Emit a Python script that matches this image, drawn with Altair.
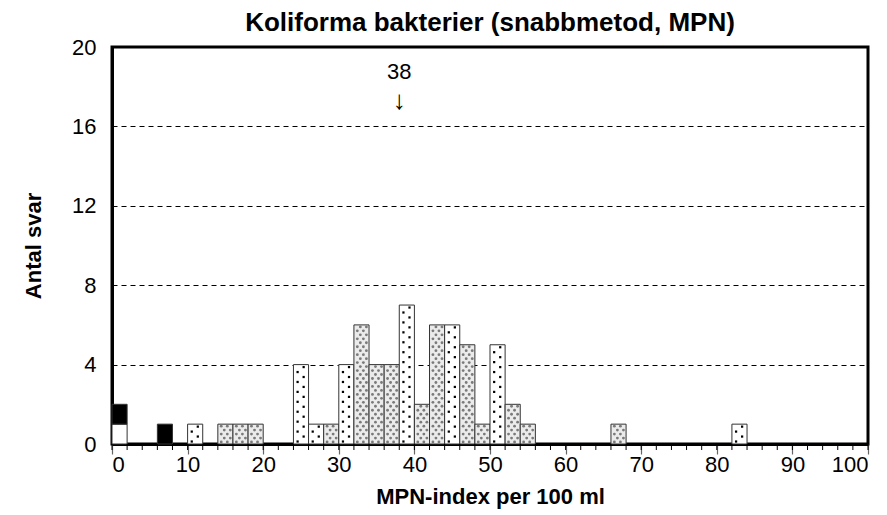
import altair as alt
import pandas as pd

# ---- data ----
bin_start = [0, 0, 6, 10, 14, 16, 18, 24, 26, 28, 30, 32, 34, 36, 38, 40, 42, 44, 46, 48, 50, 52, 54, 66, 82]
counts =    [1, 1, 1, 1, 1, 1, 1, 4, 1, 1, 4, 6, 4, 4, 7, 2, 6, 6, 5, 1, 5, 2, 1, 1, 1]
kinds = ["white", "black", "black", "sparse", "dense", "dense", "dense", "sparse", "sparse", "dense",
         "sparse", "dense", "dense", "dense", "sparse", "dense", "dense", "sparse", "dense", "dense",
         "sparse", "dense", "dense", "dense", "sparse"]
bin_width = 2
x_ticks = [0, 10, 20, 30, 40, 50, 60, 70, 80, 90, 100]
minor_ticks = list(range(0, 101, 2))
y_ticks = [0, 4, 8, 12, 16, 20]
annot_x = [38]
annot_label = ["38"]
annot_label_y = [18.75]
annot_arrow_y = [17.3]

title_text = "Koliforma bakterier (snabbmetod, MPN)"
x_title = "MPN-index per 100 ml"
y_title = "Antal svar"

# stacked segments (bottom to top within each bin)
rows = []
base = {}
for s, c, k in zip(bin_start, counts, kinds):
    y0 = base.get(s, 0)
    rows.append({"start": s, "end": s + bin_width, "y0": y0, "y1": y0 + c, "kind": k})
    base[s] = y0 + c
bars_df = pd.DataFrame(rows)

FONT = "Liberation Sans"
W, H = 756, 397

xscale = alt.Scale(domain=[0, 100], nice=False, zero=False)
yscale = alt.Scale(domain=[0, 20], nice=False)

x_enc = alt.X("start:Q", scale=xscale,
              axis=alt.Axis(values=x_ticks, title=x_title, grid=False, tickSize=10,
                            tickColor="#666", tickWidth=1.2, labelPadding=0,
                            labelFontSize=22, labelFont=FONT, labelColor="#000",
                            titleFont=FONT, titleFontSize=22, titleFontWeight="bold",
                            titleColor="#000", titlePadding=11,
                            domainColor="#000", domainWidth=3))
y_enc = alt.Y("y0:Q", scale=yscale,
              axis=alt.Axis(values=y_ticks, title=y_title, grid=True, gridDash=[5, 4],
                            gridColor="#000", gridWidth=1, ticks=False, tickSize=0,
                            labelPadding=16, labelFontSize=22, labelFont=FONT,
                            labelColor="#000", titleFont=FONT, titleFontSize=22,
                            titleFontWeight="bold", titleColor="#000", titlePadding=26,
                            domainColor="#000", domainWidth=3))

bar_base = alt.Chart(bars_df)

bars = bar_base.mark_rect(stroke="#333", strokeWidth=1).encode(
    x=x_enc,
    x2="end:Q",
    y=y_enc,
    y2="y1:Q",
    fill=alt.Fill("kind:N", scale=alt.Scale(domain=["white", "black", "sparse", "dense"],
                                            range=["#ffffff", "#000000", "#ffffff", "#ebebeb"]),
                  legend=None),
)

# dot textures
sparse_dots = bar_base.transform_filter("datum.kind === 'sparse'").transform_calculate(
    r="sequence(0, (datum.y1 - datum.y0) * 4)"
).transform_flatten(["r"]).transform_calculate(
    dx="datum.start + (datum.r % 2 === 0 ? 0.55 : 1.35)",
    dy="datum.y0 + (datum.r + 0.5) / 4",
).mark_square(size=5, color="#000", opacity=1).encode(
    x=alt.X("dx:Q", scale=xscale), y=alt.Y("dy:Q", scale=yscale)
)

dense_dots = bar_base.transform_filter("datum.kind === 'dense'").transform_calculate(
    r="sequence(0, (datum.y1 - datum.y0) * 5)", c="sequence(0, 2)"
).transform_flatten(["r"]).transform_flatten(["c"]).transform_calculate(
    dx="datum.start + 0.45 + datum.c * 0.8 + (datum.r % 2) * 0.4",
    dy="datum.y0 + (datum.r + 0.5) / 5",
).mark_circle(size=8, color="#7a7a7a", opacity=1).encode(
    x=alt.X("dx:Q", scale=xscale), y=alt.Y("dy:Q", scale=yscale)
)

minor = alt.Chart(pd.DataFrame({"m": minor_ticks})).mark_rule(color="#000", strokeWidth=1).encode(
    x=alt.X("m:Q", scale=xscale), y=alt.value(H), y2=alt.value(H + 6)
)

annot_df = pd.DataFrame({"x": annot_x, "label": annot_label,
                         "ly": annot_label_y, "ay": annot_arrow_y})
annot_num = alt.Chart(annot_df).mark_text(font=FONT, fontSize=22, color="#000",
                                         baseline="middle").encode(
    x=alt.X("x:Q", scale=xscale), y=alt.Y("ly:Q", scale=yscale), text="label:N"
)
annot_arrow = alt.Chart(annot_df).mark_text(font=FONT, fontSize=26, color="#000",
                                           baseline="middle").encode(
    x=alt.X("x:Q", scale=xscale), y=alt.Y("ay:Q", scale=yscale), text=alt.value("↓")
)

chart = alt.layer(bars, sparse_dots, dense_dots, minor, annot_num, annot_arrow).properties(
    width=W, height=H,
    title=alt.TitleParams(title_text, font=FONT, fontSize=26, fontWeight="bold",
                          color="#000", anchor="middle", offset=0),
    autosize=alt.AutoSizeParams(type="none"),
    padding={"left": 104, "top": 39, "right": 11, "bottom": 67},
).configure(background="#ffffff").configure_view(stroke="#000", strokeWidth=3)

chart.save("out.html", embed_options={"renderer": "svg", "actions": False})
